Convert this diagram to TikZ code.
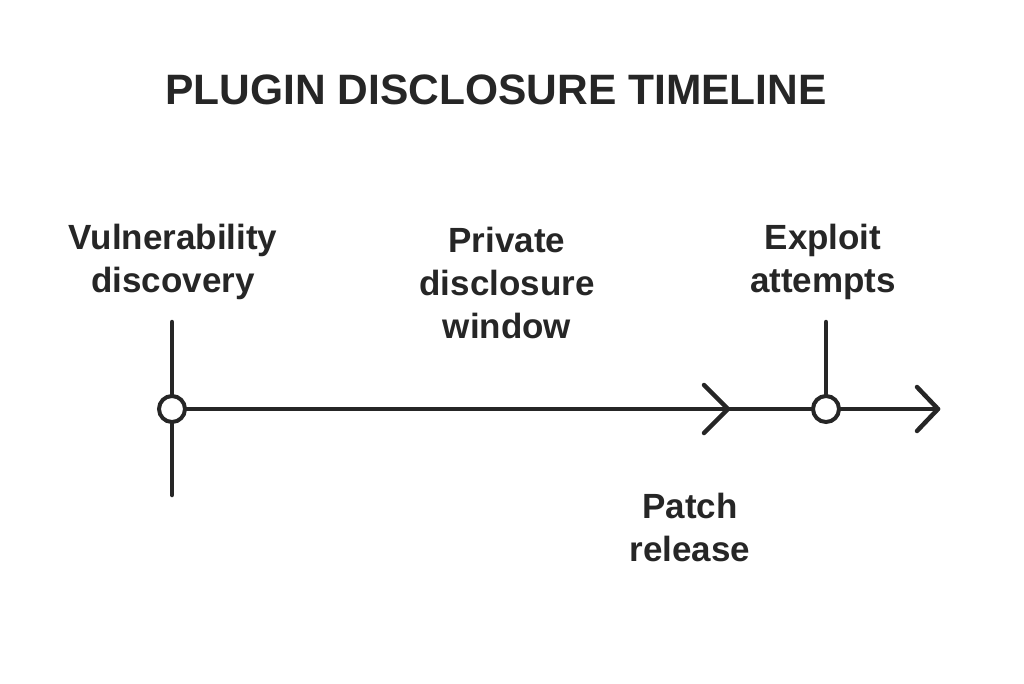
\documentclass[tikz,border=0pt]{standalone}
\usepackage{fontspec}
\setmainfont{Liberation Sans}
\begin{document}
\begin{tikzpicture}[x=1pt,y=-1pt,
  lbl/.style={font=\fontsize{35}{43}\selectfont\bfseries,align=center,text=black!85},
  ln/.style={line width=4.5pt,draw=black!85,line cap=round,line join=round},
  dot/.style={circle,draw=black!85,line width=4pt,fill=white,minimum size=26pt,inner sep=0pt}]
\useasboundingbox (0,0) rectangle (1024,683);
\node[font=\fontsize{42.5}{50}\selectfont\bfseries,text=black!85] (title) at (496,90) {PLUGIN DISCLOSURE TIMELINE};
\coordinate (v1t) at (172,322); \coordinate (v1b) at (172,495);
\coordinate (v2t) at (826,322);
\coordinate (start) at (172,409); \coordinate (mid) at (728,409); \coordinate (end) at (938,409);
\draw[ln] (v1t) -- (v1b);
\draw[ln] (v2t) -- (826,409);
\draw[ln] (start) -- (end);
\draw[ln] (704,385) -- (mid) -- (704,433);
\draw[ln] (917,387) -- (end) -- (917,431);
\node[dot] (d1) at (start) {};
\node[dot] (d2) at (826,409) {};
\node[lbl] (l1) at (173,262) {Vulnerability\\discovery};
\node[lbl] (l2) at (507,283) {Private\\disclosure\\window};
\node[lbl] (l3) at (823,262) {Exploit\\attempts};
\node[lbl] (l4) at (690,527) {Patch\\release};
\end{tikzpicture}
\end{document}
